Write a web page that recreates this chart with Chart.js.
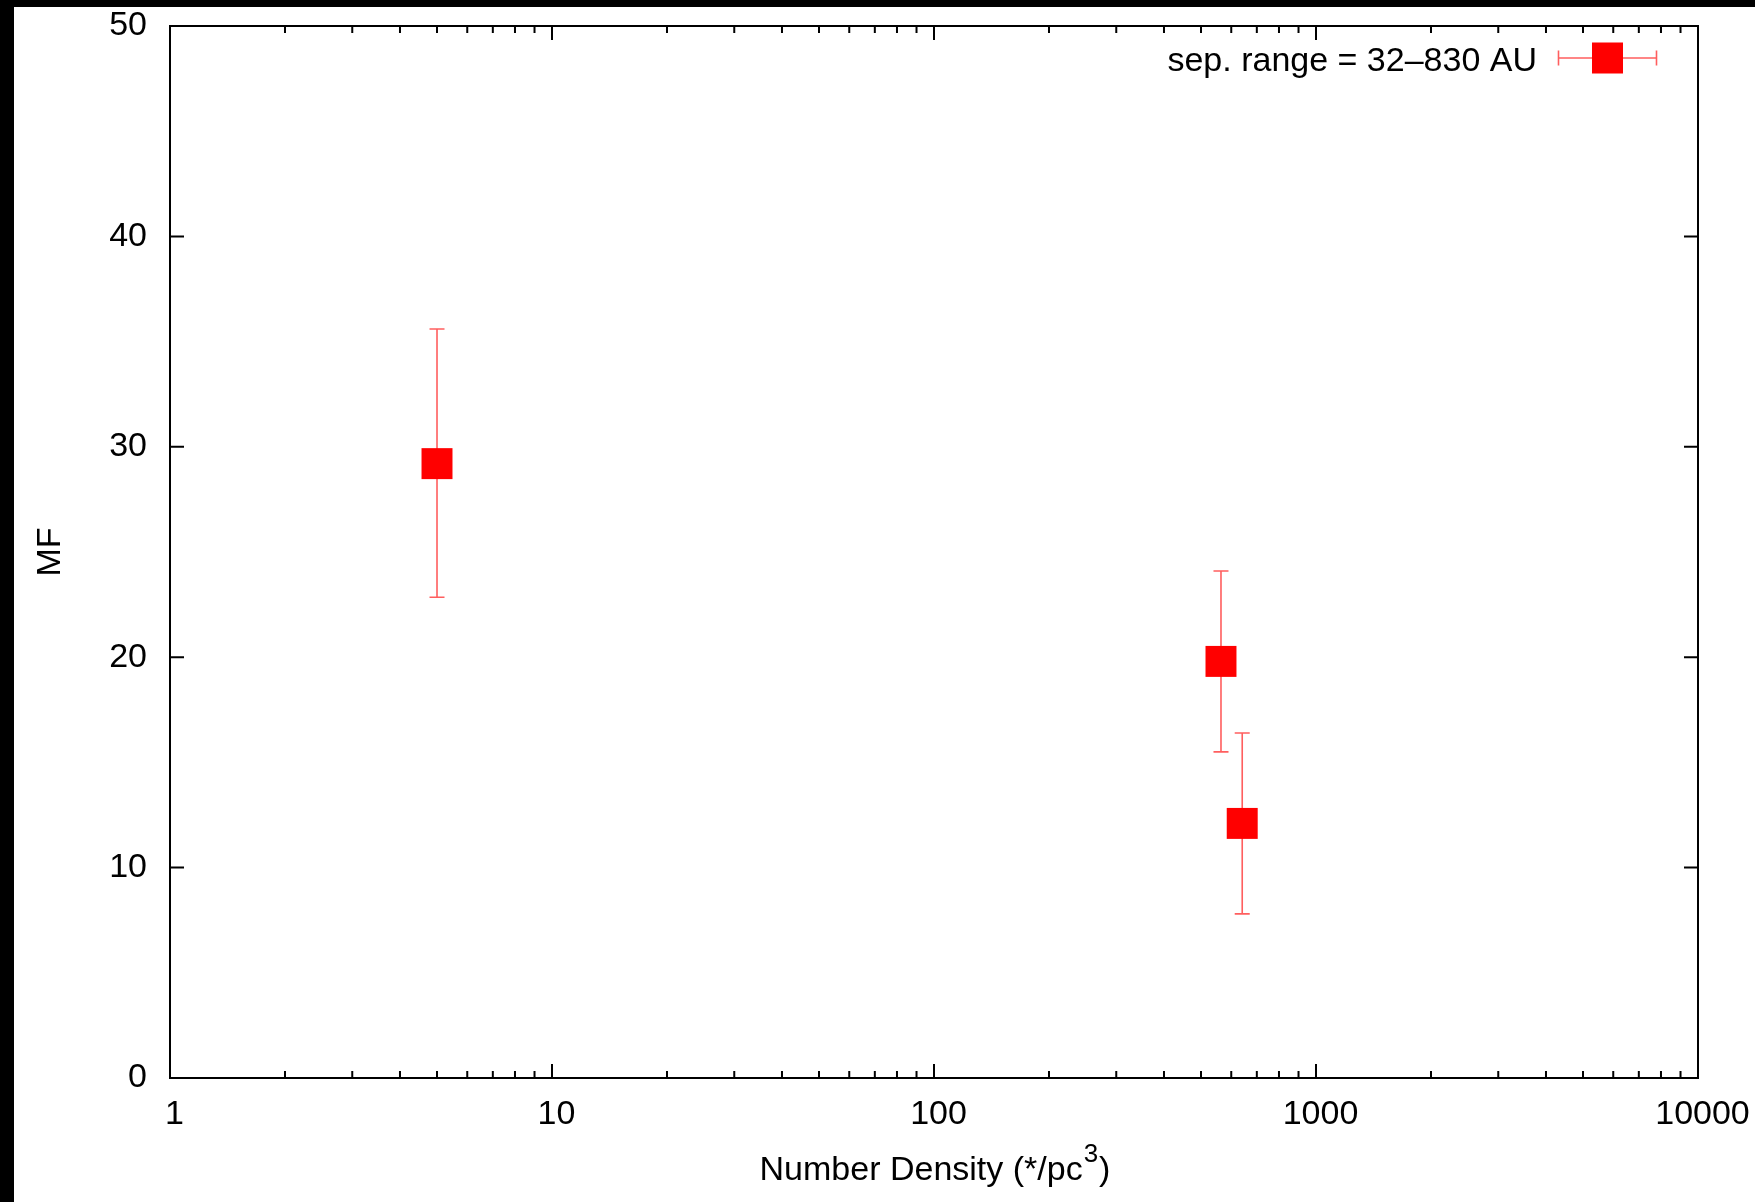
<!DOCTYPE html>
<html><head><meta charset="utf-8">
<script src="https://cdn.jsdelivr.net/npm/chart.js@4/dist/chart.umd.min.js"></script>
<style>html,body{margin:0;padding:0;background:#fff;overflow:hidden}</style>
</head><body>
<canvas id="c" width="1755" height="1202" style="display:block;width:1755px;height:1202px"></canvas>
<script>
// ---- data ----
const densities = [5, 564, 641];
const mfValues = [29.2, 19.8, 12.1];
const mfLow = [22.85, 15.5, 7.8];
const mfHigh = [35.6, 24.1, 16.4];
const xMajorTicks = [1, 10, 100, 1000, 10000];
const xMinorTicks = [2,3,4,5,6,7,8,9,20,30,40,50,60,70,80,90,200,300,400,500,600,700,800,900,2000,3000,4000,5000,6000,7000,8000,9000];
const yTicks = [0, 10, 20, 30, 40, 50];
const legendLabel = 'sep. range = 32\u2013830 AU';
const xTitleMain = 'Number Density (*/pc';
const xTitleSup = '3';
const xTitleEnd = ')';
const yTitle = 'MF';

const FONT = 'Liberation Sans, Arial, Helvetica, sans-serif';
const RED = '#ff0000';
const BAR = 'rgba(255,40,40,0.75)';

const framePlugin = {
  id: 'frame',
  beforeDraw(chart) {
    const ctx = chart.ctx;
    ctx.save();
    ctx.fillStyle = '#fff';
    ctx.fillRect(0, 0, chart.width, chart.height);
    ctx.fillStyle = '#000';
    ctx.fillRect(0, 0, 14, chart.height);
    ctx.fillRect(0, 0, chart.width, 7);
    ctx.restore();
  },
  beforeDatasetsDraw(chart) {
    const ctx = chart.ctx;
    const xs = chart.scales.x, ys = chart.scales.y;
    ctx.save();
    ctx.strokeStyle = BAR;
    ctx.lineWidth = 1.6;
    ctx.beginPath();
    densities.forEach((d, i) => {
      const px = xs.getPixelForValue(d);
      const pl = ys.getPixelForValue(mfLow[i]);
      const ph = ys.getPixelForValue(mfHigh[i]);
      ctx.moveTo(px, pl); ctx.lineTo(px, ph);
      ctx.moveTo(px - 7.5, pl); ctx.lineTo(px + 7.5, pl);
      ctx.moveTo(px - 7.5, ph); ctx.lineTo(px + 7.5, ph);
    });
    ctx.stroke();
    ctx.restore();
  },
  afterDatasetsDraw(chart) {
    const ctx = chart.ctx;
    const a = chart.chartArea;
    const xs = chart.scales.x, ys = chart.scales.y;
    ctx.save();
    ctx.strokeStyle = '#000';
    ctx.lineWidth = 2;
    ctx.beginPath();
    const tk = (px, len) => {
      ctx.moveTo(px, a.bottom); ctx.lineTo(px, a.bottom - len);
      ctx.moveTo(px, a.top); ctx.lineTo(px, a.top + len);
    };
    xMajorTicks.forEach(v => tk(xs.getPixelForValue(v), 14));
    xMinorTicks.forEach(v => tk(xs.getPixelForValue(v), 7));
    yTicks.forEach(v => {
      const py = ys.getPixelForValue(v);
      ctx.moveTo(a.left, py); ctx.lineTo(a.left + 14, py);
      ctx.moveTo(a.right, py); ctx.lineTo(a.right - 14, py);
    });
    ctx.stroke();
    ctx.strokeRect(a.left, a.top, a.right - a.left, a.bottom - a.top);
    ctx.restore();

    // x-axis title with superscript
    ctx.save();
    ctx.fillStyle = '#000';
    ctx.textBaseline = 'alphabetic';
    ctx.textAlign = 'left';
    const mainFont = '34px ' + FONT, supFont = '26px ' + FONT;
    ctx.font = mainFont;
    const w1 = ctx.measureText(xTitleMain).width;
    const w3 = ctx.measureText(xTitleEnd).width;
    ctx.font = supFont;
    const w2 = ctx.measureText(xTitleSup).width;
    const cx = (a.left + a.right) / 2;
    let sx = cx - (w1 + w2 + w3) / 2;
    const base = 1180;
    ctx.font = mainFont;
    ctx.fillText(xTitleMain, sx, base);
    ctx.font = supFont;
    ctx.fillText(xTitleSup, sx + w1 + 1, base - 18);
    ctx.font = mainFont;
    ctx.fillText(xTitleEnd, sx + w1 + w2 + 2, base);
    ctx.restore();

    // legend
    ctx.save();
    ctx.font = '34px ' + FONT;
    ctx.fillStyle = '#000';
    ctx.textAlign = 'right';
    ctx.textBaseline = 'alphabetic';
    ctx.fillText(legendLabel, 1537, 71);
    const lx = 1607.5, ly = 58;
    ctx.strokeStyle = BAR;
    ctx.lineWidth = 1.6;
    ctx.beginPath();
    ctx.moveTo(lx - 49, ly); ctx.lineTo(lx + 49, ly);
    ctx.moveTo(lx - 49, ly - 7.5); ctx.lineTo(lx - 49, ly + 7.5);
    ctx.moveTo(lx + 49, ly - 7.5); ctx.lineTo(lx + 49, ly + 7.5);
    ctx.stroke();
    ctx.fillStyle = RED;
    ctx.fillRect(lx - 15.5, ly - 15.5, 31, 31);
    ctx.restore();
  }
};

new Chart(document.getElementById('c'), {
  type: 'scatter',
  data: {
    datasets: [{
      label: legendLabel,
      data: densities.map((d, i) => ({x: d, y: mfValues[i]})),
      pointStyle: 'rect',
      pointRadius: 21.9,
      pointHoverRadius: 21.9,
      pointBorderWidth: 0,
      pointBackgroundColor: RED,
      pointBorderColor: RED,
      showLine: false
    }]
  },
  options: {
    responsive: false,
    devicePixelRatio: 1,
    animation: false,
    events: [],
    layout: {padding: {top: 26, right: 57, left: 0, bottom: 0}},
    plugins: {legend: {display: false}, tooltip: {enabled: false}},
    scales: {
      x: {
        type: 'logarithmic', position: 'bottom', min: 1, max: 10000,
        afterBuildTicks: s => { s.ticks = xMajorTicks.map(v => ({value: v})); },
        afterFit: s => { s.height = 124; s.paddingLeft = 0; s.paddingRight = 0; },
        grid: {display: false}, border: {display: false},
        ticks: {
          callback: v => String(v), autoSkip: false, maxRotation: 0, minRotation: 0,
          padding: 8, labelOffset: 4.5, color: '#000', font: {family: FONT, size: 34}
        },
        title: {display: false}
      },
      y: {
        type: 'linear', position: 'left', min: 0, max: 50,
        afterBuildTicks: s => { s.ticks = yTicks.map(v => ({value: v})); },
        afterFit: s => { s.width = 170; s.paddingTop = 0; s.paddingBottom = 0; },
        grid: {display: false}, border: {display: false},
        ticks: {padding: 15, color: '#000', font: {family: FONT, size: 34}},
        title: {display: true, text: yTitle, color: '#000', font: {family: FONT, size: 34}, padding: {top: 30, bottom: 0}}
      }
    }
  },
  plugins: [framePlugin]
});
</script>
</body></html>
